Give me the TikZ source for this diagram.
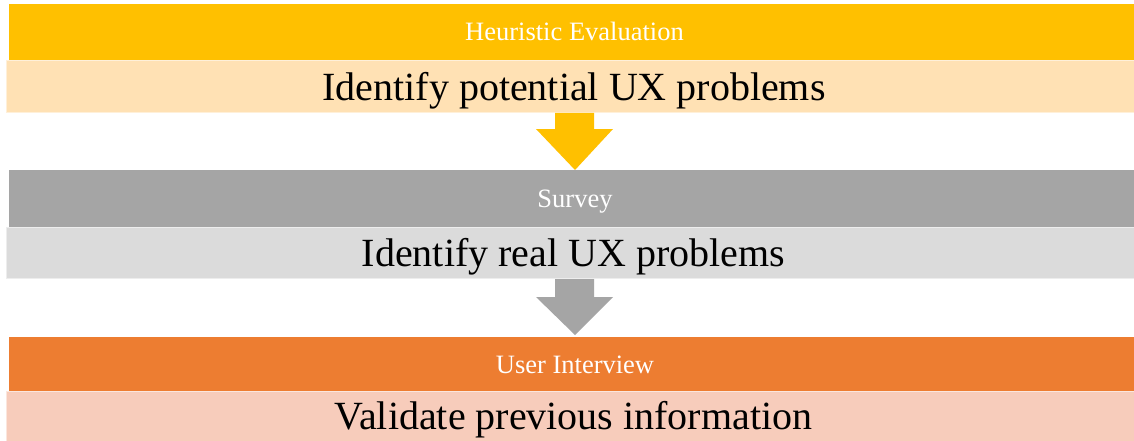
\documentclass[tikz,border=0pt]{standalone}
\usepackage{fontspec}
\setmainfont{Liberation Serif}
\definecolor{goldH}{HTML}{FFC000}
\definecolor{goldL}{HTML}{FFE1B4}
\definecolor{greyH}{HTML}{A5A5A5}
\definecolor{greyL}{HTML}{DBDBDB}
\definecolor{orngH}{HTML}{ED7D31}
\definecolor{orngL}{HTML}{F7CCBB}
\begin{document}
\begin{tikzpicture}[x=1pt,y=-1pt,
  hdr/.style={anchor=base,text=white,inner sep=0pt,font=\fontsize{26.5}{30}\selectfont},
  big/.style={anchor=base,text=black,inner sep=0pt,font=\fontsize{40}{44}\selectfont},
  lightband/.style={line width=1pt}]
\useasboundingbox (0,0) rectangle (1134,441);
\fill[white] (0,0) rectangle (1134,441);
% stage 1
\fill[goldH] (9,4) rectangle (1134,60);
\filldraw[lightband,fill=goldL,draw=goldL!50!white] (6.5,60.5) rectangle (1140,112.5);
\node[hdr] (h1) at (574.5,41) {Heuristic Evaluation};
\node[big] (t1) at (574,101) {Identify potential UX problems};
\fill[goldH] (555,113) -- (594,113) -- (594,129) -- (613,129) -- (575,170) -- (536,129) -- (555,129) -- cycle;
% stage 2
\fill[greyH] (9,170) rectangle (1134,227);
\filldraw[lightband,fill=greyL,draw=greyL!50!white] (6.5,227.5) rectangle (1140,278.5);
\node[hdr] (h2) at (575,207) {Survey};
\node[big] (t2) at (573.5,266) {Identify real UX problems};
\fill[greyH] (555,279) -- (594,279) -- (594,297) -- (613,297) -- (575,335) -- (536,297) -- (555,297) -- cycle;
% stage 3
\fill[orngH] (9,337) rectangle (1134,391);
\filldraw[lightband,fill=orngL,draw=orngL!50!white] (6.5,391.5) rectangle (1140,460);
\node[hdr] (h3) at (575,373) {User Interview};
\node[big] (t3) at (573.5,429) {Validate previous information};
\end{tikzpicture}
\end{document}
